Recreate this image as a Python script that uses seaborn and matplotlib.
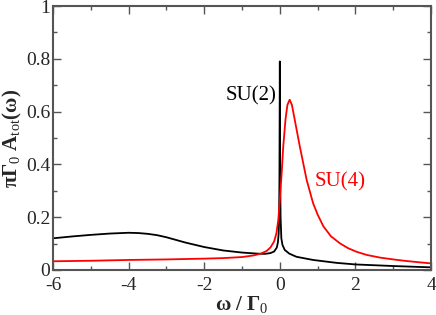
import numpy as np
import pandas as pd
import matplotlib
matplotlib.use('Agg')
import matplotlib.pyplot as plt
import seaborn as sns
from matplotlib.ticker import MultipleLocator

# values
w_su2 = [-6, -5.5, -5, -4.5, -4, -3.75, -3.5, -3.25, -3, -2.75, -2.5, -2, -1.5, -1, -0.6,
         -0.4, -0.25, -0.15, -0.08, -0.05, -0.03, -0.02, -0.01, 0.0, 0.01, 0.02, 0.04,
         0.07, 0.13, 0.25, 0.44, 0.88, 1.5, 2.0, 3.0, 4.0]
a_su2 = [0.120, 0.127, 0.133, 0.138, 0.141, 0.140, 0.137, 0.132, 0.124, 0.114, 0.104, 0.087,
         0.074, 0.066, 0.062, 0.061, 0.064, 0.070, 0.085, 0.105, 0.140, 0.190, 0.350, 0.790,
         0.330, 0.200, 0.120, 0.095, 0.076, 0.062, 0.050, 0.038, 0.027, 0.021, 0.015, 0.010]

w_su4 = [-6, -5, -4, -3, -2, -1.5, -1, -0.7, -0.5, -0.35, -0.25, -0.15, -0.09, -0.04, 0.0,
         0.05, 0.09, 0.15, 0.2, 0.26, 0.32, 0.4, 0.53, 0.71, 0.88, 1.0, 1.15, 1.35, 1.59,
         1.8, 2.03, 2.3, 2.65, 3.0, 3.35, 3.7, 4.0]
a_su4 = [0.033, 0.035, 0.038, 0.040, 0.043, 0.045, 0.049, 0.055, 0.062, 0.072, 0.085, 0.108,
         0.139, 0.190, 0.265, 0.370, 0.467, 0.570, 0.625, 0.645, 0.625, 0.565, 0.467, 0.341,
         0.253, 0.210, 0.166, 0.128, 0.101, 0.083, 0.069, 0.057, 0.047, 0.040, 0.034, 0.029,
         0.025]

df = pd.concat([
    pd.DataFrame({'w': w_su2, 'A': a_su2, 'model': 'SU(2)'}),
    pd.DataFrame({'w': w_su4, 'A': a_su4, 'model': 'SU(4)'}),
])

sns.set_style('ticks')
plt.rcParams['font.family'] = ['Liberation Serif', 'DejaVu Serif']
plt.rcParams['mathtext.fontset'] = 'custom'
plt.rcParams['mathtext.rm'] = 'Liberation Serif'
plt.rcParams['mathtext.it'] = 'Liberation Serif:italic'
plt.rcParams['mathtext.bf'] = 'Liberation Serif:bold'

fig = plt.figure(figsize=(4.36, 3.15), dpi=100)
ax = fig.add_axes([0.1216, 0.1429, 0.867, 0.838])

sns.lineplot(data=df, x='w', y='A', hue='model', palette={'SU(2)': 'black', 'SU(4)': '#ff0000'},
             linewidth=1.3, legend=False, ax=ax, estimator=None)

ax.set_xlim(-6, 4)
ax.set_ylim(0, 1)
ax.set_xticks([-6, -4, -2, 0, 2, 4])
ax.set_xticklabels(['-6', '-4', '-2', '0', '2', '4'])
ax.set_yticks([0, 0.2, 0.4, 0.6, 0.8, 1])
ax.set_yticklabels(['0', '0.2', '0.4', '0.6', '0.8', '1'])
ax.xaxis.set_minor_locator(MultipleLocator(1))
ax.yaxis.set_minor_locator(MultipleLocator(0.1))
ax.tick_params(which='both', direction='in', top=True, right=True, color='#555555',
               labelsize=14)
ax.tick_params(axis='x', pad=5)
ax.tick_params(axis='y', pad=2)
ax.tick_params(which='major', length=6, width=1)
ax.tick_params(which='minor', length=3, width=1)
for s in ax.spines.values():
    s.set_color('#555555')
    s.set_linewidth(1.5)

ax.set_xlabel(r'$\mathbf{\omega}$ / $\mathbf{\Gamma}_0$', fontsize=15, fontweight='bold', labelpad=0)
ax.set_ylabel(r'$\mathbf{\pi\Gamma}_0\ \mathbf{A}_{\mathrm{tot}}\mathbf{(\omega)}$', fontsize=15, labelpad=1)

ax.text(-0.1, 0.66, 'SU(2)', color='black', fontsize=15, ha='right', va='center')
ax.text(0.93, 0.333, 'SU(4)', color='#ff0000', fontsize=15, ha='left', va='center')

fig.savefig('out.png', dpi=100)
